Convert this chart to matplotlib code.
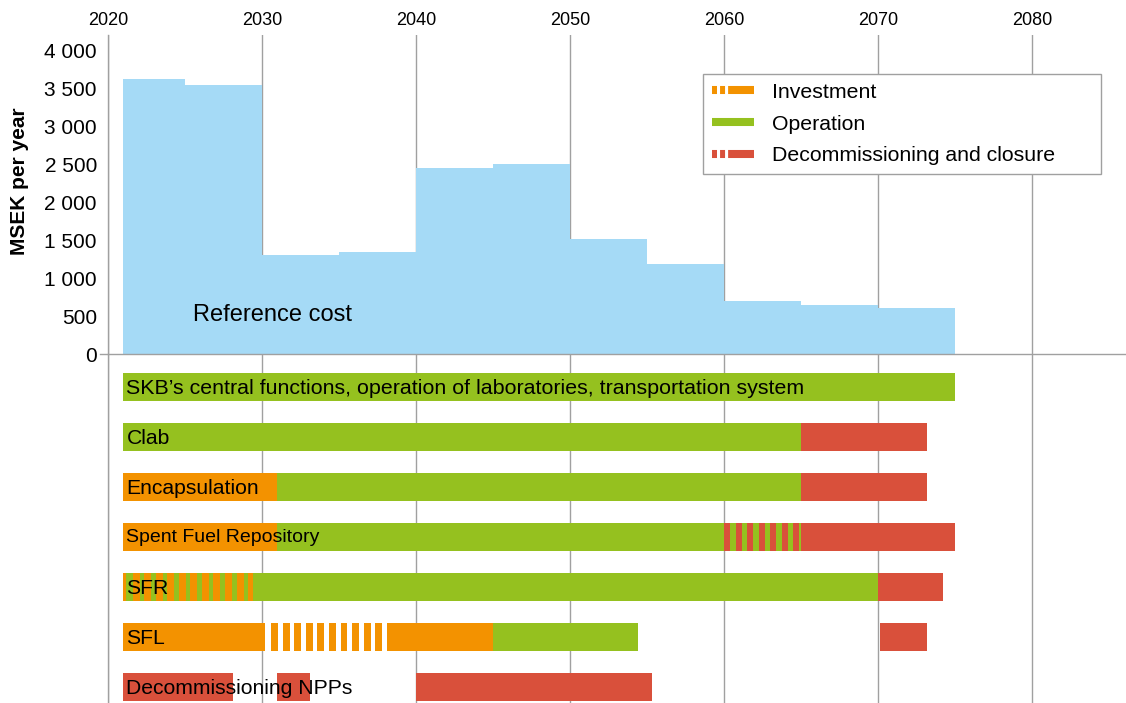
import numpy as np
import matplotlib.pyplot as plt
from matplotlib.lines import Line2D

plt.rcParams['font.family'] = ['Liberation Sans', 'DejaVu Sans']
plt.rcParams['lines.scale_dashes'] = False

# -----------------------------
# DATA
# -----------------------------
period_start = [2021, 2025, 2030, 2035, 2040, 2045, 2050, 2055, 2060, 2065, 2070]
period_end = [2025, 2030, 2035, 2040, 2045, 2050, 2055, 2060, 2065, 2070, 2075]
cost = [3620, 3540, 1300, 1340, 2450, 2500, 1510, 1190, 700, 645, 605]

year_ticks = [2020, 2030, 2040, 2050, 2060, 2070, 2080]
cost_ticks = [0, 500, 1000, 1500, 2000, 2500, 3000, 3500, 4000]
cost_tick_labels = ["0", "500", "1 000", "1 500", "2 000", "2 500", "3 000", "3 500", "4 000"]

row_labels = [
    "SKB\u2019s central functions, operation of laboratories, transportation system",
    "Clab",
    "Encapsulation",
    "Spent Fuel Repository",
    "SFR",
    "SFL",
    "Decommissioning NPPs",
]

# (start, end, phase, striped, background phase)
row_segments = [
    [(2021, 2075, "op", False, None)],
    [(2021, 2065, "op", False, None), (2065, 2073.2, "dec", False, None)],
    [(2021, 2031, "inv", False, None), (2031, 2065, "op", False, None),
     (2065, 2073.2, "dec", False, None)],
    [(2021, 2031, "inv", False, None), (2031, 2060, "op", False, None),
     (2060, 2065, "dec", True, "op"), (2065, 2075, "dec", False, None)],
    [(2021, 2021.2, "inv", False, None), (2021.2, 2021.6, "op", False, None),
     (2021.6, 2029.4, "inv", True, "op"), (2029.4, 2070, "op", False, None),
     (2070, 2074.2, "dec", False, None)],
    [(2021, 2030.2, "inv", False, None), (2030.6, 2038.2, "inv", True, None),
     (2038.2, 2045, "inv", False, None), (2045, 2054.4, "op", False, None),
     (2070.1, 2073.2, "dec", False, None)],
    [(2021, 2028.1, "dec", False, None), (2031, 2033.1, "dec", False, None),
     (2040, 2055.3, "dec", False, None)],
]
row_fontsize = [15.4, 15.2, 15.2, 14, 15.2, 15.2, 15.2]

# -----------------------------
# STYLE
# -----------------------------
COLORS = {"inv": "#f39200", "op": "#95c11f", "dec": "#d9503b"}
BLUE = "#a5daf6"
GRID = "#a0a0a0"
STRIPE_PERIOD = 0.75
STRIPE_WIDTH = {"inv": 0.45, "dec": 0.4}
BAR_H = 0.56

W, H = 1126, 703
X0 = 2020
PX_PER_YEAR = 15.4

fig = plt.figure(figsize=(W / 100, H / 100), dpi=100)
left = 108 / W
ax_top = fig.add_axes([left, (H - 354) / H, 1 - left, (354 - 35) / H])
ax_bot = fig.add_axes([left, 0, 1 - left, (H - 354) / H])

xmax = X0 + (W - 108) / PX_PER_YEAR
for ax in (ax_top, ax_bot):
    ax.set_xlim(X0, xmax)
    ax.set_xticks(year_ticks)
    ax.grid(axis="x", color=GRID, lw=1, zorder=0)
    ax.set_axisbelow(True)
    ax.patch.set_alpha(0)
    for s in ("top", "right", "bottom"):
        ax.spines[s].set_visible(False)
    ax.spines["left"].set_color(GRID)
    ax.spines["left"].set_linewidth(1)

# --- cost steps
ax_top.set_ylim(0, 4000 + 15 * 1000 / 76)
ax_top.bar(period_start, cost, width=np.subtract(period_end, period_start),
           align="edge", color=BLUE, zorder=2, linewidth=0)
ax_top.axhline(0, xmin=-0.008, xmax=1, color=GRID, lw=1, clip_on=False, zorder=3)
ax_top.set_yticks(cost_ticks, cost_tick_labels)
ax_top.tick_params(axis="y", length=0, pad=8, labelsize=15)
ax_top.xaxis.tick_top()
ax_top.tick_params(axis="x", length=0, pad=4, labelsize=13)
ax_top.set_ylabel("MSEK per year", fontsize=15, fontweight="bold")
ax_top.yaxis.set_label_coords(-0.078, 0.542)
ax_top.text(2030.65, 510, "Reference cost", fontsize=17, ha="center", va="center", zorder=4)

# --- gantt rows
ax_bot.set_ylim(6.32, -0.66)
ax_bot.set_yticks([])
ax_bot.tick_params(axis="x", length=0, labelbottom=False)

for i, segs in enumerate(row_segments):
    for start, end, phase, striped, bg in segs:
        if bg is not None:
            ax_bot.barh(i, end - start, left=start, height=BAR_H,
                        color=COLORS[bg], linewidth=0, zorder=2)
        if striped:
            xs = np.arange(start, end, STRIPE_PERIOD)
            ws = np.minimum(STRIPE_WIDTH[phase], end - xs)
            ax_bot.barh(np.full(len(xs), i), ws, left=xs, height=BAR_H,
                        color=COLORS[phase], linewidth=0, zorder=3)
        else:
            ax_bot.barh(i, end - start, left=start, height=BAR_H,
                        color=COLORS[phase], linewidth=0, zorder=3)
    ax_bot.text(2021.2, i + 0.02, row_labels[i], fontsize=row_fontsize[i],
                ha="left", va="center", zorder=5)

# --- legend
dash = (0, (3.6, 2.2, 3.6, 2.2, 20, 100))
handles = [
    Line2D([], [], color=COLORS["inv"], lw=5.8, dash_capstyle="butt", linestyle=dash),
    Line2D([], [], color=COLORS["op"], lw=5.8, solid_capstyle="butt"),
    Line2D([], [], color=COLORS["dec"], lw=5.8, dash_capstyle="butt", linestyle=dash),
]
leg = ax_top.legend(handles, ["Investment", "Operation", "Decommissioning and closure"],
                    loc="upper left", mode="expand",
                    bbox_to_anchor=(703 / W, (H - 74) / H, (1101 - 703) / W, 0),
                    bbox_transform=fig.transFigure, fontsize=15.3, frameon=True,
                    fancybox=False, edgecolor=GRID, framealpha=1,
                    handlelength=2.0, handletextpad=0.85, labelspacing=0.6,
                    borderpad=0.42, borderaxespad=0)
leg.get_frame().set_linewidth(1)
leg.set_zorder(6)

fig.savefig("out.png", dpi=100)
